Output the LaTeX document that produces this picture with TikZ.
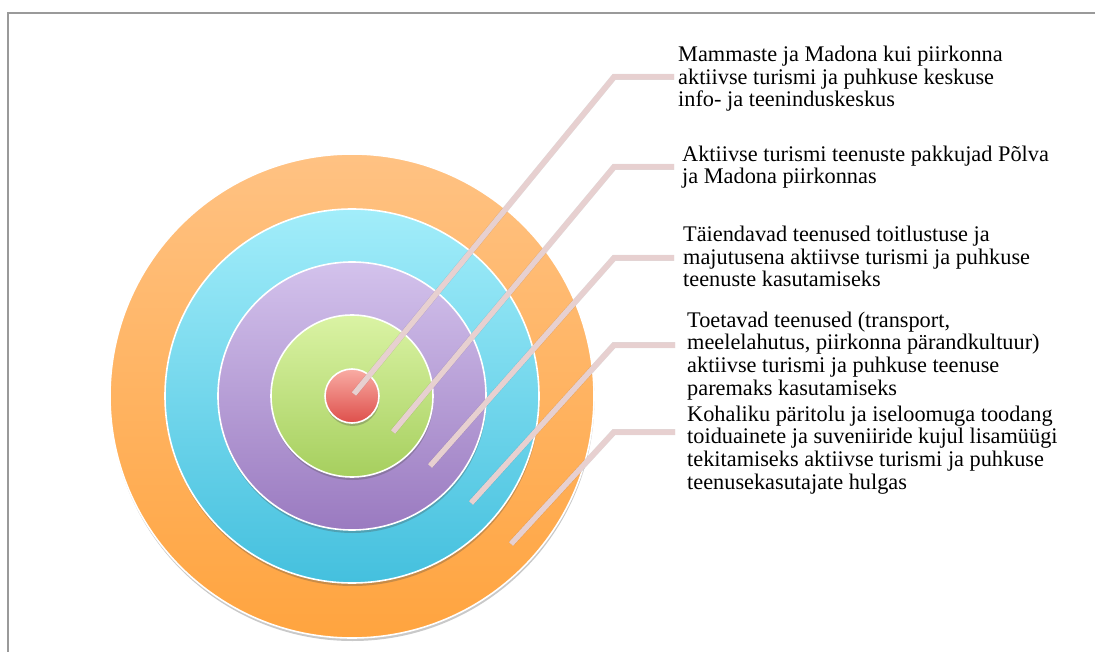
\documentclass[tikz,border=0pt]{standalone}
\usepackage{fontspec}
\setmainfont{Liberation Serif}
\usetikzlibrary{shadows}
\definecolor{orT}{HTML}{FFC283}\definecolor{orB}{HTML}{FFA43F}
\definecolor{cyT}{HTML}{A2EDFA}\definecolor{cyB}{HTML}{44C0DE}
\definecolor{puT}{HTML}{D3C2EC}\definecolor{puB}{HTML}{9A7AC0}
\definecolor{grT}{HTML}{DAF3A4}\definecolor{grB}{HTML}{A6CF5E}
\definecolor{reT}{HTML}{F9ACA4}\definecolor{reB}{HTML}{DE4F4B}
\definecolor{leadc}{HTML}{E7D0D0}
\definecolor{framec}{HTML}{9A9A9A}
\tikzset{
  ring/.style={circle, inner sep=0pt, draw=white, line width=1.6pt,
    drop shadow={shadow xshift=0.5pt, shadow yshift=-3pt, opacity=0.3, fill=black!70}},
  leadline/.style={draw=leadc, line width=5.5pt, line join=miter},
  leadshadow/.style={draw=black, opacity=0.13, line width=6pt, line join=miter, shift={(2,2)}},
  label/.style={anchor=base west, align=left, inner sep=0pt, font=\fontsize{22.3}{22.6}\selectfont},
}
\begin{document}
\begin{tikzpicture}[x=1pt,y=-1pt]
\useasboundingbox (0,0) rectangle (1095,652);
\draw[framec, line width=1.6pt] (8,652) -- (8,13) -- (1095,13);

\node[ring, minimum size=484pt, top color=orT, bottom color=orB] (c5) at (352,396) {};
\node[ring, minimum size=374pt, top color=cyT, bottom color=cyB] (c4) at (352,396) {};
\node[ring, minimum size=268pt, top color=puT, bottom color=puB] (c3) at (352,396) {};
\node[ring, minimum size=162pt, top color=grT, bottom color=grB] (c2) at (352,396) {};
\node[ring, minimum size=54pt, top color=reT, bottom color=reB] (c1) at (352,396) {};

% anchors are on the baseline of each block's last line
\node[label] (t1) at (678,107) {Mammaste ja Madona kui piirkonna\\aktiivse turismi ja puhkuse keskuse\\info- ja teeninduskeskus};
\node[label] (t2) at (682,184) {Aktiivse turismi teenuste pakkujad Põlva\\ja Madona piirkonnas};
\node[label] (t3) at (683,287) {Täiendavad teenused toitlustuse ja\\majutusena aktiivse turismi ja puhkuse\\teenuste kasutamiseks};
\node[label] (t4) at (687,395) {Toetavad teenused (transport,\\meelelahutus, piirkonna pärandkultuur)\\aktiivse turismi ja puhkuse teenuse\\paremaks kasutamiseks};
\node[label] (t5) at (687,489) {Kohaliku päritolu ja iseloomuga toodang\\toiduainete ja suveniiride kujul lisamüügi\\tekitamiseks aktiivse turismi ja puhkuse\\teenusekasutajate hulgas};

\coordinate (s1) at (354,394); \coordinate (k1) at (614,77);  \coordinate (e1) at (674,77);
\coordinate (s2) at (393,432); \coordinate (k2) at (614,167); \coordinate (e2) at (674,167);
\coordinate (s3) at (430,466); \coordinate (k3) at (614,258); \coordinate (e3) at (674,258);
\coordinate (s4) at (471,503); \coordinate (k4) at (614,345); \coordinate (e4) at (675,345);
\coordinate (s5) at (511,544); \coordinate (k5) at (614,432); \coordinate (e5) at (675,432);

\foreach \i in {1,...,5}{
  \draw[leadshadow] (s\i) -- (k\i) -- (e\i);
  \draw[leadline] (s\i) -- (k\i) -- (e\i);
}
\end{tikzpicture}
\end{document}
